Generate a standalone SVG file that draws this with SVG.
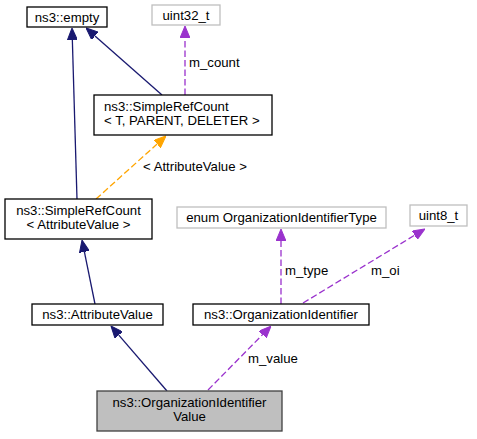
<svg xmlns="http://www.w3.org/2000/svg" width="477" height="439" viewBox="0 0 477 439">
<style>
text{font-family:"Liberation Sans",Arial,Helvetica,sans-serif;font-size:13.2px;fill:#000}
.c{text-anchor:middle}
.n{fill:#fff;stroke:#000;stroke-width:1.3}
.g{fill:#fff;stroke:#bfbfbf;stroke-width:1.3}
.m{fill:#bfbfbf;stroke:#404040;stroke-width:1.3}
.e{fill:none;stroke-width:1.3}
.nv{stroke:#191970}
.pu{stroke:#9a32cd;stroke-dasharray:6.5,3}
.or{stroke:#ffa500;stroke-dasharray:6.5,3}
</style>
<defs>
<marker id="aN" markerUnits="userSpaceOnUse" viewBox="0 0 12 10" refX="0" refY="5" markerWidth="12" markerHeight="10" orient="auto"><path d="M0,0 L12,5 L0,10 z" fill="#191970" stroke="#191970"/></marker>
<marker id="aP" markerUnits="userSpaceOnUse" viewBox="0 0 12 10" refX="0" refY="5" markerWidth="12" markerHeight="10" orient="auto"><path d="M0,0 L12,5 L0,10 z" fill="#9a32cd" stroke="#9a32cd"/></marker>
<marker id="aO" markerUnits="userSpaceOnUse" viewBox="0 0 12 10" refX="0" refY="5" markerWidth="12" markerHeight="10" orient="auto"><path d="M0,0 L12,5 L0,10 z" fill="#ffa500" stroke="#ffa500"/></marker>
</defs>
<g id="edges">
<path class="e nv" d="M95,304 L84.4,251.8" marker-end="url(#aN)"/>
<path class="e nv" d="M77,199 L72.35,40" marker-end="url(#aN)"/>
<path class="e nv" d="M162,95 L95,35.9" marker-end="url(#aN)"/>
<path class="e pu" d="M185,95 L185,38" marker-end="url(#aP)"/>
<text x="189" y="67">m_count</text>
<path class="e or" d="M96,199 L157.1,144" marker-end="url(#aO)"/>
<text x="143" y="171">&lt; AttributeValue &gt;</text>
<path class="e pu" d="M281,304 L281,241" marker-end="url(#aP)"/>
<text x="285" y="275">m_type</text>
<path class="e pu" d="M303,303 L414.7,235.2" marker-end="url(#aP)"/>
<text x="371" y="275">m_oi</text>
<path class="e nv" d="M167,391 L118.8,335.1" marker-end="url(#aN)"/>
<path class="e pu" d="M208,390 L262.6,334.6" marker-end="url(#aP)"/>
<text x="248" y="363">m_value</text>
</g>
<g id="node-empty"><rect class="n" x="27" y="7" width="80" height="20"/><text class="c" x="67" y="21.7">ns3::empty</text></g>
<g id="node-uint32"><rect class="g" x="152" y="5" width="68" height="20"/><text class="c" x="186" y="19.7">uint32_t</text></g>
<g id="node-srct"><rect class="n" x="94" y="95" width="178" height="40"/><text x="104" y="111">ns3::SimpleRefCount</text><text x="104" y="125.3">&lt; T, PARENT, DELETER &gt;</text></g>
<g id="node-srcav"><rect class="n" x="5" y="199" width="147" height="40"/><text class="c" x="78.5" y="215">ns3::SimpleRefCount</text><text class="c" x="78.5" y="229.3">&lt; AttributeValue &gt;</text></g>
<g id="node-enum"><rect class="g" x="177" y="207" width="209" height="21"/><text class="c" x="281.5" y="222.2">enum OrganizationIdentifierType</text></g>
<g id="node-uint8"><rect class="g" x="410" y="205" width="57" height="21"/><text class="c" x="438.5" y="220.2">uint8_t</text></g>
<g id="node-attr"><rect class="n" x="32" y="304" width="131" height="21"/><text class="c" x="97.5" y="319.2">ns3::AttributeValue</text></g>
<g id="node-orgid"><rect class="n" x="193" y="304" width="176" height="21"/><text class="c" x="281" y="319.2">ns3::OrganizationIdentifier</text></g>
<g id="node-main"><rect class="m" x="97" y="391" width="185" height="40"/><text class="c" x="189.5" y="407">ns3::OrganizationIdentifier</text><text class="c" x="189.5" y="421.3">Value</text></g>
</svg>
